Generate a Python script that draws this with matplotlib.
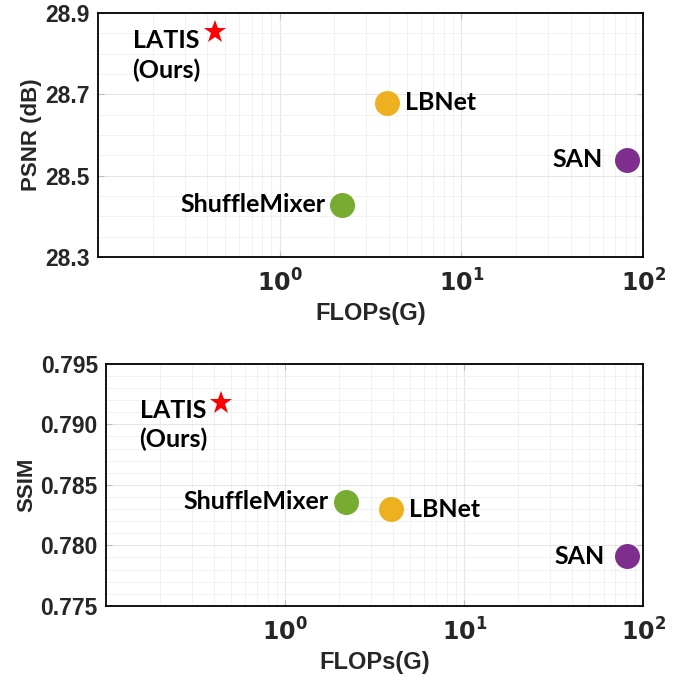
import matplotlib
matplotlib.use("Agg")
import matplotlib.pyplot as plt
from matplotlib.ticker import MultipleLocator, LogLocator, NullFormatter

# data
methods = ["LATIS\n(Ours)", "ShuffleMixer", "LBNet", "SAN"]
flops = [0.44, 2.2, 3.9, 81]
psnr = [28.853, 28.428, 28.679, 28.539]
ssim = [0.7918, 0.7836, 0.7830, 0.7791]

psnr_ticks = [28.3, 28.5, 28.7, 28.9]
ssim_ticks = [0.775, 0.780, 0.785, 0.790, 0.795]

colors = ["#ff0000", "#77ac30", "#edb120", "#7e2f8e"]
markers = ["*", "o", "o", "o"]
msizes = [17, 18, 18, 18]

# label offsets in points (x, y) and alignment, per panel
offs_top = [(-35, -17, "center"), (-12, 0, "right"), (13, 0, "left"), (-17, 0, "right")]
offs_bot = [(-35, -16, "center"), (-13, 0, "right"), (13, 0, "left"), (-16, 0, "right")]

tick_col = "#262626"
label_font = "Lato"

fig = plt.figure(figsize=(6.85, 6.8), dpi=100)
ax1 = fig.add_axes([0.143, 0.622, 0.796, 0.359])
ax2 = fig.add_axes([0.155, 0.109, 0.784, 0.356])


def style_ax(ax, ylim, yticks, yminor, yfmt, ylabel):
    ax.set_xscale("log")
    ax.set_xlim(0.1, 100)
    ax.xaxis.set_minor_locator(LogLocator(base=10, subs=range(2, 10), numticks=20))
    ax.xaxis.set_minor_formatter(NullFormatter())
    ax.set_xticks([1, 10, 100])
    ax.set_xticklabels([r"$\mathbf{10^{0}}$", r"$\mathbf{10^{1}}$", r"$\mathbf{10^{2}}$"])
    ax.set_yticks(yticks)
    ax.set_yticklabels([yfmt.format(v) for v in yticks])
    ax.yaxis.set_minor_locator(MultipleLocator(yminor))
    ax.set_ylim(*ylim)
    ax.grid(which="major", color="#e6e6e6", linewidth=0.8)
    ax.grid(which="minor", color="#f1f1f1", linewidth=0.7)
    ax.set_axisbelow(True)
    ax.tick_params(which="both", direction="in", top=True, right=True,
                   colors="#bdbdbd", labelcolor=tick_col)
    ax.tick_params(axis="x", pad=9, labelsize=17)
    ax.tick_params(axis="y", pad=6, labelsize=16.5)
    ax.tick_params(which="major", length=4)
    ax.tick_params(which="minor", length=0)
    for lab in ax.get_yticklabels() + ax.get_xticklabels():
        lab.set_fontweight("bold")
        lab.set_family("Liberation Sans")
    for sp in ax.spines.values():
        sp.set_color("black")
        sp.set_linewidth(1.3)
    ax.set_xlabel("FLOPs(G)", fontsize=17, fontweight="bold", color=tick_col,
                  family="Liberation Sans", labelpad=4)
    ax.set_ylabel(ylabel, fontsize=16, fontweight="bold", color=tick_col,
                  family="Liberation Sans", labelpad=2)


def draw(ax, yvals, offs):
    for name, x, y, c, m, ms, (dx, dy, ha) in zip(methods, flops, yvals, colors,
                                                 markers, msizes, offs):
        ax.plot(x, y, marker=m, color=c, markersize=ms, linestyle="none",
                markeredgewidth=0, clip_on=False, zorder=3)
        ax.annotate(name, (x, y), xytext=(dx, dy), textcoords="offset points",
                    ha=ha, va="center", multialignment="center", linespacing=1.3,
                    fontsize=18, fontweight="bold", family=label_font, color="black")


style_ax(ax1, (28.3, 28.9), psnr_ticks, 0.05, "{:.1f}", "PSNR (dB)")
draw(ax1, psnr, offs_top)

style_ax(ax2, (0.775, 0.795), ssim_ticks, 0.001, "{:.3f}", "SSIM")
draw(ax2, ssim, offs_bot)

fig.savefig("out.png", dpi=100)
